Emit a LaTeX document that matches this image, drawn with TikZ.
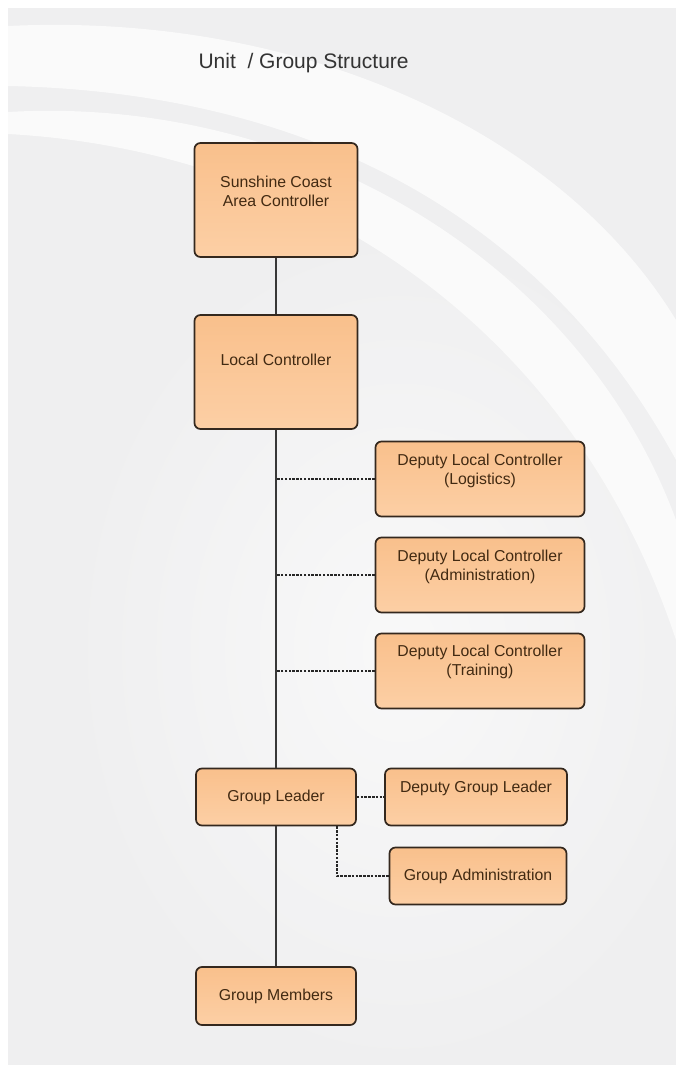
\documentclass[tikz,border=0pt]{standalone}
\usepackage{fontspec}
\setmainfont{Liberation Sans}
\definecolor{boxfill}{RGB}{249,192,140}
\definecolor{boxfill2}{RGB}{252,207,165}
\definecolor{boxline}{RGB}{52,40,30}
\definecolor{boxtext}{RGB}{66,42,18}
\definecolor{bggrey}{RGB}{239,239,240}

\begin{document}
\begin{tikzpicture}[x=1pt, y=-1pt,
    box/.style={draw=boxline, line width=1.7pt, rounded corners=6pt,
        top color=boxfill, bottom color=boxfill2, text=boxtext,
        font=\fontsize{15.8}{19}\selectfont, align=center, inner sep=0pt},
    lift/.style={text depth=#1},
    link/.style={draw=black!78, line width=1.7pt},
    dlink/.style={link, draw=black!85, dash pattern=on 2.5pt off 1.3pt}]
    \useasboundingbox (0,0) rectangle (676,1065);
    % Background
    \fill[white] (0,0) rectangle (676,1065);
    \fill[bggrey] (8,8) rectangle (676,1065);
    \shade[inner color=white!60!bggrey, outer color=bggrey] (400,650) ellipse (330 and 420);
    \fill[white!70!bggrey] (8,26) .. controls (300,12) and (560,130) .. (676,320)
        -- (676,460) .. controls (540,210) and (300,92) .. (8,86) -- cycle;
    \fill[white!70!bggrey] (8,112) .. controls (300,95) and (580,260) .. (676,520)
        -- (676,640) .. controls (570,320) and (300,150) .. (8,134) -- cycle;

    \node[font=\fontsize{21}{25}\selectfont, text=black!80, anchor=base west]
        (title) at (195,68) {Unit\ \ / Group Structure};

    \node[box, minimum width=163pt, minimum height=114pt, lift=18pt](area)   at (276,200)   {Sunshine Coast\\Area Controller};
    \node[box, minimum width=163pt, minimum height=114pt, lift=24pt](local)  at (276,372)   {Local Controller};
    \node[box, minimum width=209pt, minimum height=75pt, lift=20pt](dlc*1)   at (480,479)   {Deputy Local Controller\\(Logistics)};
    \node[box, minimum width=209pt, minimum height=75pt, lift=20pt](dlc*2)   at (480,575)   {Deputy Local Controller\\(Administration)};
    \node[box, minimum width=209pt, minimum height=75pt, lift=22pt](dlc*3)   at (480,671)   {Deputy Local Controller\\(Training)};
    \node[box, minimum width=160pt, minimum height=57pt](gl)                 at (276,797)   {Group Leader};
    \node[box, minimum width=182pt, minimum height=57pt, lift=20pt](dgl)     at (476,797)   {Deputy Group Leader};
    \node[box, minimum width=177pt, minimum height=57pt](gadm)               at (478,876)   {Group Administration};
    \node[box, minimum width=160pt, minimum height=58pt](gm)                 at (276,996)   {Group Members};
    % Links
    \path
        (area)
            edge [link] (local)
        (local)
            edge [link] (gl)
        (gl)
            edge [link] (gm)
            edge [dlink] (dgl)
        (dlc*1)
            edge [dlink] (dlc*1 -| gl)
        (dlc*2)
            edge [dlink] (dlc*2 -| gl)
        (dlc*3)
            edge [dlink] (dlc*3 -| gl)
        ([xshift=-20pt]gl.south east)
            edge [dlink, to path={|- (\tikztotarget)}] (gadm)
        ;
\end{tikzpicture}
\end{document}
